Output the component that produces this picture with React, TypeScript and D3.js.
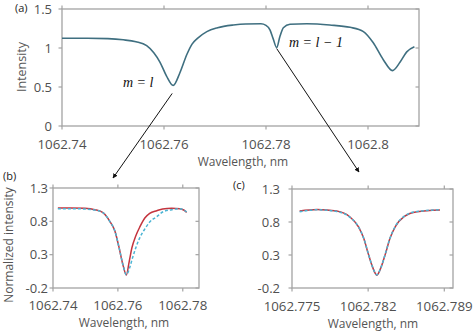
import React from 'react';
import * as d3 from 'd3';

const W = 473;
const H = 334;

// (a) full transmission spectrum
const aXTicks = [1062.74, 1062.76, 1062.78, 1062.8];
const aYTicks = [0, 0.5, 1, 1.5];
const aSpectrum: [number, number][] = [
  [1062.74, 1.125], [1062.745, 1.125], [1062.749, 1.12], [1062.752, 1.105],
  [1062.7545, 1.08], [1062.7566, 1.03], [1062.758, 0.94], [1062.7592, 0.82],
  [1062.7605, 0.64], [1062.7618, 0.52], [1062.7631, 0.68], [1062.7645, 0.92],
  [1062.7655, 1.05], [1062.7665, 1.12], [1062.7684, 1.21], [1062.7705, 1.26],
  [1062.7736, 1.295], [1062.776, 1.308], [1062.779, 1.31], [1062.78, 1.29],
  [1062.7808, 1.23], [1062.7814, 1.12], [1062.7821, 1.005], [1062.7827, 1.14],
  [1062.7834, 1.26], [1062.7847, 1.305], [1062.788, 1.31], [1062.7925, 1.295],
  [1062.7965, 1.265], [1062.7991, 1.21], [1062.801, 1.07], [1062.803, 0.85],
  [1062.8048, 0.71], [1062.8063, 0.82], [1062.8076, 0.95], [1062.8091, 1.015],
];

// (b) zoom on m = l
const bXTicks = [1062.74, 1062.76, 1062.78];
const normTicks = [-0.2, 0.3, 0.8, 1.3];
const bFit: [number, number][] = [
  [1062.7415, 1.0], [1062.7452, 1.0], [1062.7498, 0.995], [1062.7529, 0.975],
  [1062.7554, 0.93], [1062.7575, 0.8], [1062.7591, 0.65], [1062.7603, 0.42],
  [1062.7616, 0.14], [1062.7626, -0.005], [1062.7635, 0.2], [1062.7643, 0.4],
  [1062.7655, 0.58], [1062.7668, 0.72], [1062.7683, 0.85], [1062.7698, 0.92],
  [1062.772, 0.96], [1062.7738, 0.985], [1062.7766, 0.995], [1062.7791, 0.99],
  [1062.7803, 0.97], [1062.7812, 0.935],
];
const bModel: [number, number][] = [
  [1062.7415, 0.99], [1062.7452, 0.99], [1062.7498, 0.985], [1062.7529, 0.97],
  [1062.7554, 0.93], [1062.7575, 0.8], [1062.7591, 0.65], [1062.7603, 0.42],
  [1062.7616, 0.14], [1062.7626, 0.0], [1062.7636, 0.1], [1062.7645, 0.25],
  [1062.7655, 0.4], [1062.7668, 0.56], [1062.7685, 0.7], [1062.7698, 0.79],
  [1062.772, 0.87], [1062.7738, 0.94], [1062.7766, 0.975], [1062.7791, 0.99],
  [1062.7803, 0.97], [1062.7812, 0.94],
];

// (c) zoom on m = l - 1
const cXTicks = [1062.775, 1062.782, 1062.789];
const cFit: [number, number][] = [
  [1062.7757, 0.967], [1062.7773, 0.99], [1062.7791, 0.965], [1062.7803, 0.88],
  [1062.7811, 0.73], [1062.7816, 0.55], [1062.782, 0.325], [1062.7824, 0.12],
  [1062.7828, -0.005], [1062.7832, 0.12], [1062.7836, 0.325], [1062.784, 0.55],
  [1062.7845, 0.73], [1062.7853, 0.88], [1062.7865, 0.955], [1062.7886, 0.98],
];
const cModel: [number, number][] = [
  [1062.7757, 0.955], [1062.7773, 0.985], [1062.7791, 0.96], [1062.7803, 0.875],
  [1062.7811, 0.73], [1062.7816, 0.55], [1062.782, 0.33], [1062.7824, 0.12],
  [1062.7828, 0.0], [1062.7832, 0.12], [1062.7836, 0.33], [1062.784, 0.55],
  [1062.7845, 0.735], [1062.7853, 0.885], [1062.7865, 0.96], [1062.7886, 0.985],
];

const FONT = "'Open Sans', sans-serif";
const TICK_COLOR = '#505050';
const FRAME = '#a3a3a3';

type Series = { data: [number, number][]; color: string; width: number; dash?: string };

function Panel(props: {
  x0: number; x1: number; y0: number; y1: number;
  xDomain: [number, number]; yDomain: [number, number];
  xTicks: number[]; yTicks: number[];
  series: Series[];
  yLabelRight: number; xLabelBase: number;
  xTitle: string; xTitleX: number; xTitleY: number;
  yTitle?: string; yTitleX?: number; yTitleY?: number; yTitleSize?: number;
}) {
  const x = d3.scaleLinear().domain(props.xDomain).range([props.x0, props.x1]);
  const y = d3.scaleLinear().domain(props.yDomain).range([props.y0, props.y1]);
  const line = d3.line<[number, number]>()
    .x((d) => x(d[0]))
    .y((d) => y(d[1]))
    .curve(d3.curveMonotoneX);
  const tk = 3.5;
  return (
    <g>
      <rect x={props.x0} y={props.y1} width={props.x1 - props.x0} height={props.y0 - props.y1}
        fill="none" stroke={FRAME} strokeWidth={1.3} />
      {props.xTicks.map((t) => (
        <g key={'x' + t}>
          <line x1={x(t)} x2={x(t)} y1={props.y0} y2={props.y0 + tk} stroke={FRAME} strokeWidth={1.2} />
          <line x1={x(t)} x2={x(t)} y1={props.y1} y2={props.y1 - tk} stroke={FRAME} strokeWidth={1.2} />
          <text x={x(t)} y={props.xLabelBase} textAnchor="middle" fontSize={13.3}
            fontFamily={FONT} fill={TICK_COLOR}>{String(t)}</text>
        </g>
      ))}
      {props.yTicks.map((t) => (
        <g key={'y' + t}>
          <line x1={props.x0 - tk} x2={props.x0} y1={y(t)} y2={y(t)} stroke={FRAME} strokeWidth={1.2} />
          <line x1={props.x1 - tk} x2={props.x1} y1={y(t)} y2={y(t)} stroke={FRAME} strokeWidth={1.2} />
          <text x={props.yLabelRight} y={y(t)} dy="0.36em" textAnchor="end" fontSize={13}
            fontFamily={FONT} fill={TICK_COLOR}>{String(t)}</text>
        </g>
      ))}
      {props.series.map((s, i) => (
        <path key={i} d={line(s.data) || ''} fill="none" stroke={s.color}
          strokeWidth={s.width} strokeDasharray={s.dash} />
      ))}
      <text x={props.xTitleX} y={props.xTitleY} textAnchor="middle" fontSize={12}
        fontFamily={FONT} fill="#555">{props.xTitle}</text>
      {props.yTitle && (
        <text transform={`translate(${props.yTitleX},${props.yTitleY ?? (props.y0 + props.y1) / 2}) rotate(-90)`}
          textAnchor="middle" fontSize={props.yTitleSize ?? 12.5} fontFamily={FONT} fill="#555">
          {props.yTitle}
        </text>
      )}
    </g>
  );
}

export default function App() {
  const xA = d3.scaleLinear().domain([1062.74, 1062.81]).range([62, 419]);
  const yA = d3.scaleLinear().domain([0, 1.5]).range([126, 9]);
  const dip1 = aSpectrum[9];
  const dip2 = aSpectrum[22];

  return (
    <svg width={W} height={H} style={{ position: 'absolute', left: 0, top: 0, background: '#fff' }}>
      <defs>
        <marker id="ah" viewBox="0 0 10 10" refX="9" refY="5" markerWidth="5" markerHeight="5"
          orient="auto-start-reverse">
          <path d="M0,0 L10,5 L0,10 z" fill="#111" />
        </marker>
      </defs>
      <Panel x0={62} x1={419} y0={126} y1={9}
        xDomain={[1062.74, 1062.81]} yDomain={[0, 1.5]}
        xTicks={aXTicks} yTicks={aYTicks}
        series={[{ data: aSpectrum, color: '#3f6f80', width: 1.6 }]}
        yLabelRight={52} xLabelBase={149}
        xTitle="Wavelength, nm" xTitleX={243} xTitleY={166}
        yTitle="Intensity" yTitleX={26} yTitleY={67} />
      <Panel x0={53} x1={199} y0={288} y1={188}
        xDomain={[1062.74, 1062.785]} yDomain={[-0.2, 1.3]}
        xTicks={bXTicks} yTicks={normTicks}
        series={[
          { data: bFit, color: '#c4343e', width: 1.5 },
          { data: bModel, color: '#4bb4d4', width: 1.5, dash: '3,2' },
        ]}
        yLabelRight={48} xLabelBase={310}
        xTitle="Wavelength, nm" xTitleX={124} xTitleY={327}
        yTitle="Normalized intensity" yTitleX={13} yTitleY={245} yTitleSize={12} />
      <Panel x0={292} x1={453} y0={288} y1={189}
        xDomain={[1062.775, 1062.7898]} yDomain={[-0.2, 1.3]}
        xTicks={cXTicks} yTicks={normTicks}
        series={[
          { data: cFit, color: '#c4343e', width: 1.5 },
          { data: cModel, color: '#4bb4d4', width: 1.5, dash: '3,2' },
        ]}
        yLabelRight={280} xLabelBase={311}
        xTitle="Wavelength, nm" xTitleX={373} xTitleY={328} />

      <text x={15} y={12} fontSize={11} fontFamily={FONT} fill="#222">(a)</text>
      <text x={3} y={180} fontSize={11} fontFamily={FONT} fill="#222">(b)</text>
      <text x={233} y={189} fontSize={11} fontFamily={FONT} fill="#222">(c)</text>

      <text x={123} y={87} fontSize={14} fontFamily="'Liberation Serif', serif" fontStyle="italic" fill="#111">
        m = l
      </text>
      <text x={289} y={47} fontSize={14} fontFamily="'Liberation Serif', serif" fontStyle="italic" fill="#111">
        m = l − 1
      </text>

      <line x1={xA(dip1[0]) - 1} y1={yA(dip1[1]) + 8} x2={113} y2={178}
        stroke="#111" strokeWidth={1} markerEnd="url(#ah)" />
      <line x1={xA(dip2[0])} y1={yA(dip2[1]) + 1} x2={359} y2={172}
        stroke="#111" strokeWidth={1} markerEnd="url(#ah)" />
    </svg>
  );
}
